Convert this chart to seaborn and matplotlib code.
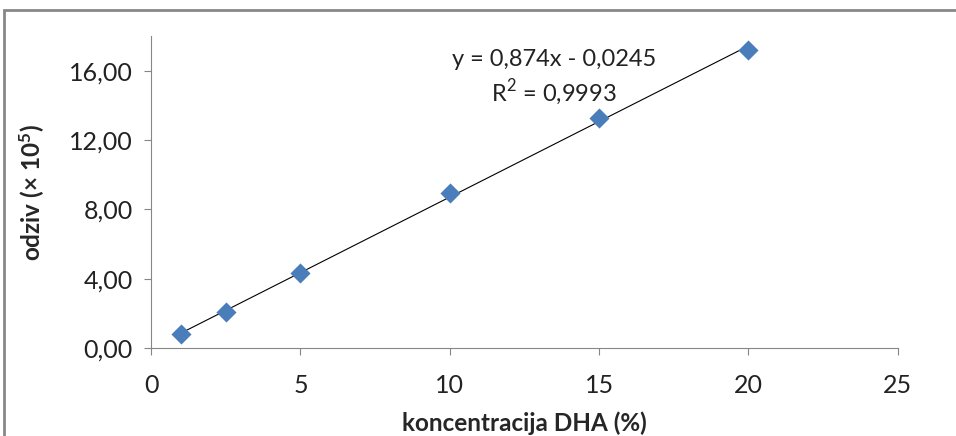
import matplotlib.pyplot as plt
import matplotlib.patches as mpatches
import seaborn as sns
import pandas as pd

# calibration data
konc = [1, 2.5, 5, 10, 15, 20]
odziv = [0.78, 2.05, 4.35, 8.95, 13.25, 17.2]
y_ticks = [0, 4, 8, 12, 16]
x_ticks = [0, 5, 10, 15, 20, 25]
eq_text = "y = 0,874x - 0,0245\nR$^{2}$ = 0,9993"

sns.set_style("white")
plt.rcParams["font.family"] = ["Lato", "DejaVu Sans"]
plt.rcParams["mathtext.fontset"] = "custom"
plt.rcParams["mathtext.rm"] = "Lato"
plt.rcParams["mathtext.bf"] = "Lato:bold"

df = pd.DataFrame({"konc": konc, "odziv": odziv})

fig = plt.figure(figsize=(9.56, 4.36), dpi=100)
ax = fig.add_axes([0.158, 0.202, 0.781, 0.715])

sns.regplot(data=df, x="konc", y="odziv", ax=ax, ci=None, marker="D",
            scatter_kws={"s": 105, "color": "#4A7EBB", "alpha": 1,
                         "linewidths": 0, "zorder": 3},
            line_kws={"color": "black", "lw": 0.8, "zorder": 2})

ax.set_xlim(0, 25)
ax.set_ylim(0, 18)
ax.set_xticks(x_ticks)
ax.set_yticks(y_ticks)
ax.set_xticklabels([str(t) for t in x_ticks])
ax.set_yticklabels([f"{t:.2f}".replace(".", ",") for t in y_ticks])
ax.tick_params(axis="both", labelsize=18, labelcolor="#222222", length=5, width=0.8,
               direction="out", bottom=True, left=True, color="#868686")
ax.tick_params(axis="x", pad=14)
ax.tick_params(axis="y", pad=8)

for side in ["top", "right"]:
    ax.spines[side].set_visible(False)
for side in ["left", "bottom"]:
    ax.spines[side].set_color("#868686")
    ax.spines[side].set_linewidth(0.8)

ax.set_xlabel("koncentracija DHA (%)", fontsize=17.5, fontweight="bold", labelpad=10)
ax.set_ylabel("odziv (× 10$\\mathbf{^{5}}$)", fontsize=17.5, fontweight="bold", labelpad=16)

ax.text(13.5, 15.55, eq_text, ha="center", va="center", fontsize=17,
        linespacing=1.3, color="#222222")

# outer chart border
fig.patches.append(mpatches.Rectangle((4 / 956, -0.1), 1.2, 1.1 - 10 / 436,
                                      transform=fig.transFigure, fill=False,
                                      edgecolor="#888888", lw=2))

fig.savefig("out.png", dpi=100)
